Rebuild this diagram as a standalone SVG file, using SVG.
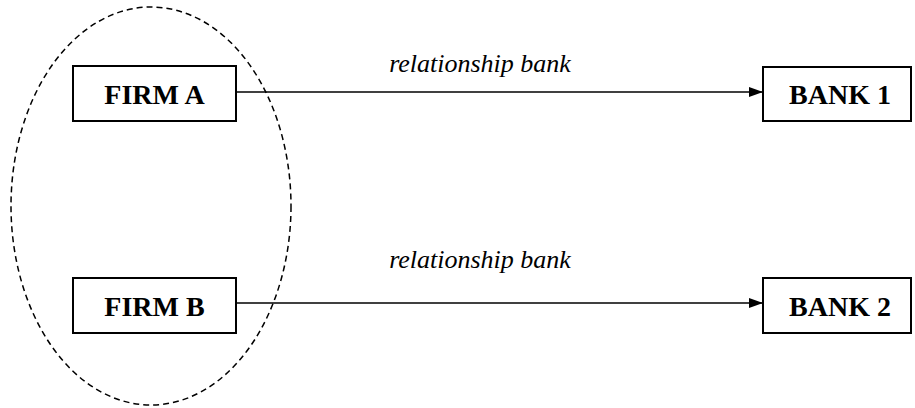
<svg xmlns="http://www.w3.org/2000/svg" width="915" height="408" viewBox="0 0 915 408">
<style>
.box{fill:#fff;stroke:#000;stroke-width:2}
.lbl{font-family:"Liberation Serif","Times New Roman",serif;font-weight:bold;font-size:28px;text-anchor:middle}
.it{font-family:"Liberation Serif","Times New Roman",serif;font-style:italic;font-size:26px;text-anchor:middle}
.con{stroke:#000;stroke-width:1.5;fill:none}
</style>
<defs>
<marker id="ah" markerWidth="14" markerHeight="10" refX="14" refY="5" orient="auto" markerUnits="userSpaceOnUse">
<path d="M0,0 L14,5 L0,10 z" fill="#000"/>
</marker>
</defs>
<g id="firmA"><rect class="box" x="73" y="66" width="163" height="55"/><text class="lbl" x="154.5" y="104">FIRM A</text></g>
<g id="firmB"><rect class="box" x="73" y="278" width="163" height="55"/><text class="lbl" x="154.5" y="316">FIRM B</text></g>
<g id="bank1"><rect class="box" x="763" y="67" width="148" height="54"/><text class="lbl" x="840" y="104">BANK 1</text></g>
<g id="bank2"><rect class="box" x="763" y="278" width="148" height="55"/><text class="lbl" x="840" y="316">BANK 2</text></g>
<g id="connectors">
<line class="con" x1="236" y1="92" x2="763" y2="92" marker-end="url(#ah)"/>
<line class="con" x1="236" y1="303" x2="763" y2="303" marker-end="url(#ah)"/>
<text class="it" x="480" y="72">relationship bank</text>
<text class="it" x="480" y="268">relationship bank</text>
</g>
<ellipse id="group" cx="151" cy="206" rx="140" ry="199" fill="none" stroke="#000" stroke-width="1.5" stroke-dasharray="6,4"/>
</svg>
